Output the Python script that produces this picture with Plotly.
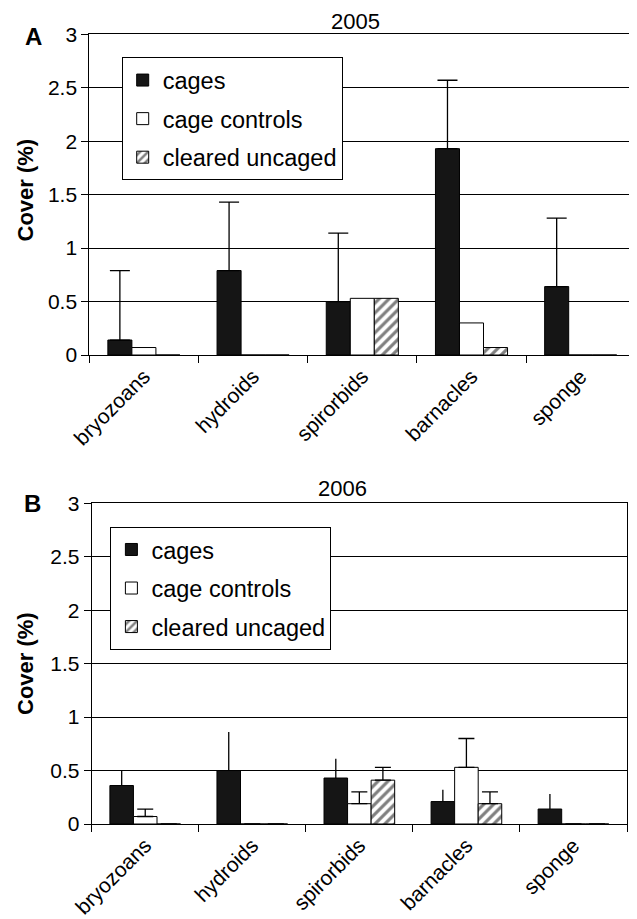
import plotly.graph_objects as go

# ---------------- data ----------------
categories = ["bryozoans", "hydroids", "spirorbids", "barnacles", "sponge"]
series_names = ["cages", "cage controls", "cleared uncaged"]

# 2005 (panel A)
cages_2005 = [0.14, 0.79, 0.50, 1.93, 0.64]
cages_2005_err = [0.65, 0.64, 0.64, 0.64, 0.64]
controls_2005 = [0.07, 0.0, 0.53, 0.30, 0.0]
controls_2005_err = [0.0, 0.0, 0.0, 0.0, 0.0]
cleared_2005 = [0.0, 0.0, 0.53, 0.07, 0.0]
cleared_2005_err = [0.0, 0.0, 0.0, 0.0, 0.0]

# 2006 (panel B)
cages_2006 = [0.36, 0.50, 0.43, 0.21, 0.14]
cages_2006_err = [0.14, 0.36, 0.18, 0.11, 0.14]
controls_2006 = [0.07, 0.0, 0.19, 0.53, 0.0]
controls_2006_err = [0.07, 0.0, 0.11, 0.27, 0.0]
cleared_2006 = [0.0, 0.0, 0.41, 0.19, 0.0]
cleared_2006_err = [0.0, 0.0, 0.12, 0.11, 0.0]

y_tickvals = [0, 0.5, 1, 1.5, 2, 2.5, 3]
y_ticktext = ["0", "0.5", "1", "1.5", "2", "2.5", "3"]

# ---------------- figure ----------------
# the page body has an 8px default margin, so the figure is drawn 8px in
PAGE_OFF = 8
W, H = 637 - PAGE_OFF, 919 - PAGE_OFF
FONT = "Liberation Sans, Arial, Helvetica, sans-serif"
fig = go.Figure()


def px_x(v):
    return (v - PAGE_OFF) / W


def px_y(v):
    return 1 - (v - PAGE_OFF) / H


def add_panel(xa, ya, leg, grp, cages, cages_err, ctrl, ctrl_err, clr, clr_err,
              cage_cap, show_other_err):
    zeros = [0] * len(categories)
    fig.add_trace(go.Bar(
        x=categories, y=cages, name=series_names[0], xaxis=xa, yaxis=ya,
        legend=leg, legendgroup=grp + "1",
        marker=dict(color="#151515", line=dict(color="black", width=1)),
        error_y=dict(type="data", array=cages_err, arrayminus=zeros,
                     symmetric=False, color="black", thickness=1.3,
                     width=cage_cap),
    ))
    fig.add_trace(go.Bar(
        x=categories, y=ctrl, name=series_names[1], xaxis=xa, yaxis=ya,
        legend=leg, legendgroup=grp + "2",
        marker=dict(color="white", line=dict(color="black", width=1)),
        error_y=dict(type="data", array=ctrl_err, arrayminus=zeros,
                     symmetric=False, color="black", thickness=1.3, width=8,
                     visible=show_other_err),
    ))
    fig.add_trace(go.Bar(
        x=categories, y=clr, name=series_names[2], xaxis=xa, yaxis=ya,
        legend=leg, legendgroup=grp + "3",
        marker=dict(color="white", line=dict(color="black", width=1),
                    pattern=dict(shape="/", fgcolor="black", bgcolor="white",
                                 size=7, solidity=0.45)),
        error_y=dict(type="data", array=clr_err, arrayminus=zeros,
                     symmetric=False, color="black", thickness=1.3, width=8,
                     visible=show_other_err),
    ))


add_panel("x", "y", "legend", "a", cages_2005, cages_2005_err, controls_2005,
          controls_2005_err, cleared_2005, cleared_2005_err, 10, False)
add_panel("x2", "y2", "legend2", "b", cages_2006, cages_2006_err, controls_2006,
          controls_2006_err, cleared_2006, cleared_2006_err, 0, True)

xaxis_common = dict(
    type="category", tickson="boundaries", ticks="outside", ticklen=7,
    tickcolor="black", tickangle=-45, showline=True, linecolor="black",
    linewidth=1, mirror=True, showgrid=False, automargin=False,
    tickfont=dict(family=FONT, size=21, color="black"),
)
yaxis_common = dict(
    range=[0, 3], tickvals=y_tickvals, ticktext=y_ticktext, ticks="outside",
    ticklen=7, tickcolor="black", showline=True, linecolor="black",
    linewidth=1, mirror=True, showgrid=True, gridcolor="black", gridwidth=1,
    zeroline=False, automargin=False,
    tickfont=dict(family=FONT, size=21, color="black"),
)

legend_common = dict(
    xanchor="left", yanchor="top", bgcolor="white", bordercolor="black",
    borderwidth=1, font=dict(family=FONT, size=23.5, color="black"),
    tracegroupgap=5, traceorder="grouped",
)

fig.update_layout(
    width=W, height=H,
    margin=dict(l=0, r=0, t=0, b=0),
    paper_bgcolor="white", plot_bgcolor="white",
    font=dict(family=FONT, color="black"),
    barmode="group", bargap=0.34, bargroupgap=0,
    xaxis=dict(domain=[px_x(89.3), px_x(635.3)], anchor="y", **xaxis_common),
    yaxis=dict(domain=[px_y(355), px_y(34.3)], anchor="x", **yaxis_common),
    xaxis2=dict(domain=[px_x(91.7), px_x(627)], anchor="y2", **xaxis_common),
    yaxis2=dict(domain=[px_y(824), px_y(503.3)], anchor="x2", **yaxis_common),
    legend=dict(x=px_x(121.7), y=px_y(57.3), **legend_common),
    legend2=dict(x=px_x(110.4), y=px_y(526.7), **legend_common),
    showlegend=True,
)

annotations = [
    dict(text="2005", x=px_x(355), y=px_y(21.7), font=dict(size=22)),
    dict(text="2006", x=px_x(342), y=px_y(489), font=dict(size=22)),
    dict(text="<b>A</b>", x=px_x(34), y=px_y(36), font=dict(size=24)),
    dict(text="<b>B</b>", x=px_x(32), y=px_y(503), font=dict(size=24)),
    dict(text="<b>Cover (%)</b>", x=px_x(25), y=px_y(190.5), textangle=-90,
         font=dict(size=22)),
    dict(text="<b>Cover (%)</b>", x=px_x(25), y=px_y(664), textangle=-90,
         font=dict(size=22)),
]
for a in annotations:
    a.update(xref="paper", yref="paper", showarrow=False,
             xanchor="center", yanchor="middle")
    a["font"].update(family=FONT, color="black")
fig.update_layout(annotations=annotations)

fig.write_html("out.html")
